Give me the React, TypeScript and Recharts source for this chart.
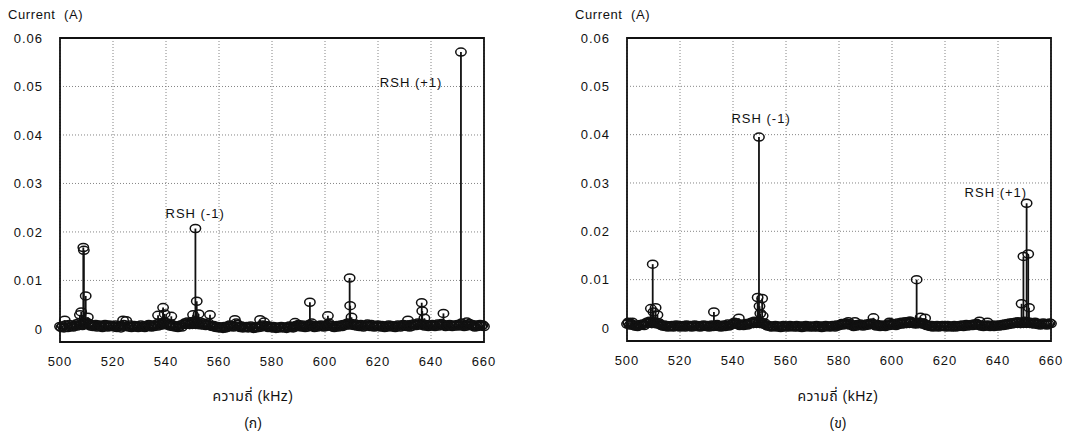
import React from 'react';
import {
  ComposedChart,
  Scatter,
  ErrorBar,
  XAxis,
  YAxis,
  CartesianGrid,
  ReferenceArea,
  ReferenceDot,
} from 'recharts';

// frequency ticks (kHz) and current ticks (A)
const freqTicks = [500, 520, 540, 560, 580, 600, 620, 640, 660];
const currentTicks = [0, 0.01, 0.02, 0.03, 0.04, 0.05, 0.06];

// background spectrum, one value every 0.5 kHz from 500 kHz, in units of 0.1 mA
const noiseA = [
  5, 3, 6, 2, 8, 4, 3, 9, 5, 6, 4, 7, 10, 6, 12, 8, 9, 7, 10, 12,
  14, 9, 11, 6, 8, 5, 7, 9, 4, 6, 8, 5, 3, 7, 9, 6, 4, 8, 5, 7,
  6, 4, 8, 3, 5, 7, 2, 6, 9, 5, 17, 6, 4, 8, 3, 5, 7, 4, 6, 3,
  5, 8, 4, 6, 3, 7, 5, 9, 6, 4, 8, 5, 7, 10, 6, 12, 9, 8, 11, 14,
  9, 12, 8, 6, 10, 5, 7, 4, 6, 3, 5, 8, 4, 9, 12, 10, 14, 11, 9, 15,
  12, 16, 10, 13, 9, 11, 14, 8, 12, 10, 7, 9, 12, 8, 6, 5, 7, 4, 3, 5,
  2, 4, 3, 1, 5, 2, 3, 6, 8, 5, 7, 4, 6, 12, 9, 5, 3, 6, 2, 4,
  3, 5, 2, 4, 6, 3, 1, 4, 2, 5, 3, 6, 4, 8, 14, 7, 5, 3, 6, 4,
  2, 5, 3, 1, 4, 2, 3, 5, 2, 4, 3, 1, 4, 6, 3, 5, 2, 4, 7, 5,
  9, 6, 4, 8, 5, 3, 7, 4, 9, 6, 8, 5, 3, 6, 4, 7, 5, 8, 6, 4,
  7, 5, 9, 12, 8, 6, 4, 3, 5, 7, 4, 6, 8, 5, 9, 7, 10, 12, 9, 8,
  11, 9, 7, 10, 6, 8, 5, 9, 7, 4, 6, 8, 10, 7, 5, 9, 6, 4, 7, 5,
  8, 6, 4, 7, 5, 3, 6, 4, 8, 5, 7, 4, 6, 3, 5, 8, 6, 4, 7, 9,
  6, 8, 5, 7, 4, 9, 6, 10, 8, 7, 12, 9, 11, 8, 10, 6, 9, 7, 5, 8,
  6, 9, 7, 5, 8, 10, 6, 8, 11, 9, 7, 5, 8, 6, 9, 7, 5, 8, 6, 7,
  9, 6, 8, 12, 7, 5, 9, 6, 8, 11, 7, 9, 6, 4, 8, 5, 7, 9, 6, 8,
  5,
];

const noiseB = [
  8, 10, 6, 9, 7, 5, 4, 6, 3, 5, 7, 6, 8, 5, 9, 12, 10, 14, 11, 9,
  13, 10, 12, 8, 11, 7, 5, 4, 6, 3, 5, 2, 4, 3, 5, 2, 4, 6, 3, 5,
  2, 4, 3, 5, 2, 6, 4, 3, 5, 2, 4, 6, 3, 5, 4, 2, 5, 3, 6, 4,
  3, 5, 2, 4, 6, 3, 5, 4, 7, 3, 5, 2, 4, 6, 3, 5, 8, 4, 6, 7,
  9, 12, 8, 10, 7, 5, 6, 8, 5, 7, 9, 6, 8, 10, 12, 9, 14, 11, 13, 10,
  12, 9, 11, 8, 10, 6, 4, 5, 3, 2, 4, 3, 5, 2, 4, 3, 1, 3, 5, 2,
  4, 3, 2, 5, 3, 4, 2, 3, 5, 2, 4, 3, 1, 4, 2, 5, 3, 4, 2, 3,
  4, 2, 3, 5, 2, 4, 3, 1, 4, 2, 5, 3, 4, 2, 3, 5, 4, 2, 6, 4,
  5, 7, 9, 6, 8, 10, 7, 9, 6, 8, 5, 3, 6, 4, 7, 5, 8, 6, 4, 7,
  5, 8, 6, 9, 7, 10, 8, 6, 4, 7, 5, 3, 6, 4, 5, 3, 6, 8, 5, 7,
  9, 6, 8, 5, 10, 7, 9, 12, 8, 10, 13, 9, 11, 14, 10, 12, 9, 11, 8, 10,
  12, 9, 11, 8, 10, 7, 5, 6, 4, 3, 5, 2, 4, 3, 5, 2, 4, 3, 5, 3,
  4, 2, 5, 3, 4, 2, 3, 5, 2, 4, 3, 5, 4, 6, 3, 5, 7, 4, 6, 5,
  7, 5, 8, 6, 9, 7, 5, 4, 6, 3, 5, 4, 6, 5, 3, 4, 6, 3, 5, 4,
  6, 4, 5, 7, 5, 8, 6, 9, 7, 10, 8, 11, 9, 12, 10, 13, 11, 9, 12, 10,
  14, 11, 13, 10, 12, 9, 11, 8, 10, 9, 7, 9, 6, 8, 10, 7, 9, 6, 8, 10,
  9,
];

// distinct spectral lines (kHz, A)
const peakFreqA = [
  501.8, 507.5, 508.0, 508.8, 509.0, 509.7, 510.5, 523.8, 537.0, 538.9, 539.5,
  542.0, 550.2, 551.1, 551.6, 552.3, 556.6, 566.0, 575.5, 588.7, 594.3, 595.0,
  601.1, 609.3, 609.5, 610.0, 631.3, 636.5, 636.7, 637.5, 644.7, 651.3, 653.5,
];
const peakCurrentA = [
  0.0018, 0.0029, 0.0035, 0.0168, 0.0162, 0.0068, 0.0024, 0.0018, 0.0028, 0.0044, 0.0031,
  0.0026, 0.0029, 0.0207, 0.0057, 0.0031, 0.0029, 0.0019, 0.0019, 0.0013, 0.0055, 0.0012,
  0.0027, 0.0105, 0.0048, 0.0024, 0.0018, 0.0054, 0.0037, 0.0022, 0.0032, 0.0571, 0.0014,
];

const peakFreqB = [
  500.5, 502.0, 509.0, 509.7, 510.0, 510.8, 511.5, 532.8, 542.2, 549.3, 549.8,
  550.0, 550.3, 551.0, 551.2, 583.5, 586.0, 593.0, 599.0, 607.0, 609.3, 610.8,
  612.5, 633.0, 636.0, 648.9, 649.6, 650.8, 651.4, 651.7, 654.0,
];
const peakCurrentB = [
  0.0012, 0.0012, 0.004, 0.0132, 0.0033, 0.0042, 0.0027, 0.0033, 0.002, 0.0063, 0.0395,
  0.0045, 0.003, 0.0061, 0.0025, 0.0013, 0.0013, 0.0021, 0.0012, 0.0014, 0.01, 0.0022,
  0.002, 0.0014, 0.0012, 0.005, 0.0148, 0.0258, 0.0153, 0.0042, 0.0012,
];

const notesA = [
  { f: 632.5, v: 0.0509, text: 'RSH (+1)' },
  { f: 551, v: 0.0239, text: 'RSH (-1)' },
];
const notesB = [
  { f: 550.6, v: 0.0433, text: 'RSH (-1)' },
  { f: 639.2, v: 0.028, text: 'RSH (+1)' },
];

const FONT = "'Liberation Sans', Arial, 'Noto Sans Thai', 'Noto Sans', sans-serif";
const INK = '#111';

const buildData = (noise: number[], pf: number[], pv: number[]) => {
  const base = noise.map((n, i) => ({ f: 500 + i * 0.5, v: n / 10000 }));
  const lines = pf.map((f, i) => ({ f, v: pv[i] }));
  return [...base, ...lines].map((d) => ({ ...d, err: [d.v, 0] }));
};

const Ring = (props: any) => {
  const { cx, cy } = props;
  if (cx == null || cy == null) return null;
  return <ellipse cx={cx} cy={cy} rx={5.2} ry={4} fill="none" stroke={INK} strokeWidth={1.5} />;
};

interface PanelProps {
  left: number;
  width: number;
  marginRight: number;
  marginBottom: number;
  data: { f: number; v: number; err: number[] }[];
  notes: { f: number; v: number; text: string }[];
  xLabelCenter: number;
  caption: string;
}

const Panel = ({ left, width, marginRight, marginBottom, data, notes, xLabelCenter, caption }: PanelProps) => {
  const tickStyle = { fill: INK, fontSize: 13, fontFamily: FONT, letterSpacing: 1 };
  return (
    <div style={{ position: 'absolute', left, top: 0, width, height: 434 }}>
      <div style={{ position: 'absolute', left: 8, top: 7, fontSize: 13, fontFamily: FONT, color: INK, letterSpacing: 0.6, whiteSpace: 'pre' }}>
        {'Current  (A)'}
      </div>
      <ComposedChart
        width={width}
        height={434}
        data={data}
        margin={{ top: 38, right: marginRight, left: 8, bottom: marginBottom }}
      >
        <CartesianGrid stroke="#777" strokeDasharray="1 2" strokeWidth={0.9} />
        <XAxis
          dataKey="f"
          type="number"
          domain={[500, 660]}
          ticks={freqTicks}
          height={30}
          tickLine={false}
          axisLine={false}
          tickMargin={9}
          tick={tickStyle}
          interval={0}
        />
        <YAxis
          dataKey="v"
          type="number"
          domain={[-0.0027, 0.06]}
          ticks={currentTicks}
          width={52}
          tickLine={false}
          axisLine={false}
          tickMargin={11}
          tick={tickStyle}
          interval={0}
          tickFormatter={(t: number) => (t === 0 ? '0' : t.toFixed(2))}
        />
        <ReferenceArea
          x1={500}
          x2={660}
          y1={-0.0027}
          y2={0.06}
          fill="none"
          stroke={INK}
          strokeWidth={1.8}
          ifOverflow="visible"
        />
        <Scatter dataKey="v" data={data} shape={<Ring />} isAnimationActive={false}>
          <ErrorBar dataKey="err" direction="y" width={0} stroke={INK} strokeWidth={1.8} isAnimationActive={false} />
        </Scatter>
        {notes.map((n) => (
          <ReferenceDot
            key={n.text}
            x={n.f}
            y={n.v}
            r={0}
            fill="none"
            stroke="none"
            ifOverflow="visible"
            label={{ value: n.text, position: 'center', fill: INK, fontSize: 13, fontFamily: FONT, letterSpacing: 1 }}
          />
        ))}
      </ComposedChart>
      <div style={{ position: 'absolute', left: xLabelCenter - 100, width: 200, top: 386, textAlign: 'center', fontSize: 14, fontFamily: FONT, color: INK, letterSpacing: 0.5 }}>
        ความถี่ (kHz)
      </div>
      <div style={{ position: 'absolute', left: xLabelCenter - 100, width: 200, top: 413, textAlign: 'center', fontSize: 14, fontFamily: FONT, color: INK }}>
        {caption}
      </div>
    </div>
  );
};

const App = () => {
  const dataA = buildData(noiseA, peakFreqA, peakCurrentA);
  const dataB = buildData(noiseB, peakFreqB, peakCurrentB);
  return (
    <div style={{ position: 'absolute', left: 0, top: 0, width: 1066, height: 434, background: '#fff' }}>
      <Panel left={0} width={540} marginRight={56} marginBottom={62} data={dataA} notes={notesA} xLabelCenter={253} caption="(ก)" />
      <Panel left={567} width={499} marginRight={15} marginBottom={63} data={dataB} notes={notesB} xLabelCenter={271} caption="(ข)" />
    </div>
  );
};

export default App;
